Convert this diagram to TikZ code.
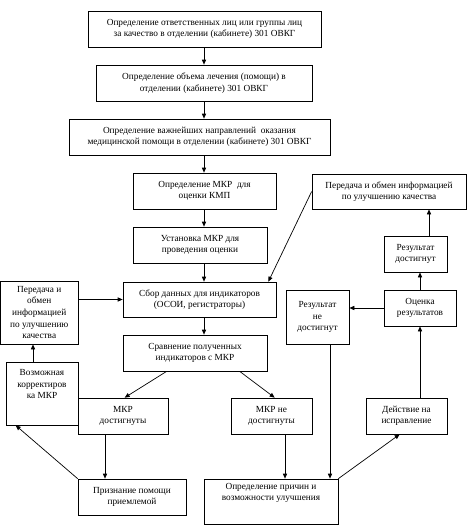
\documentclass[tikz,border=0pt]{standalone}
\usepackage{fontspec}
\setmainfont{Liberation Serif}
\usetikzlibrary{arrows.meta,calc}
\newcommand{\bx}[6]{%
  \node[boxst, minimum width={(#4)-(#2)}, minimum height={(#5)-(#3)}] (#1)
    at ({((#2)+(#4))/2},{((#3)+(#5))/2}) {#6};}
\tikzset{
  boxst/.style={draw, line width=0.7pt, inner sep=0pt, align=center,
    font=\fontsize{9.3}{11.6}\selectfont},
  arr/.style={line width=0.7pt, -{Triangle[length=5pt,width=4.2pt]}}
}
\begin{document}
\begin{tikzpicture}[x=1pt,y=-1pt]
\useasboundingbox (0,0) rectangle (468,528);
\bx{b1}{88}{11}{321}{47}{Определение ответственных лиц или группы лиц\\за качество в отделении (кабинете) 301 ОВКГ}
\bx{b2}{96}{65}{312}{101}{Определение объема лечения (помощи) в\\отделении (кабинете) 301 ОВКГ}
\bx{b3}{69}{119}{330}{155}{Определение важнейших направлений\ \ оказания\\медицинской помощи в отделении (кабинете) 301 ОВКГ}
\bx{b4}{133}{173}{276}{209}{Определение МКР\ \ для\\оценки КМП}
\bx{b5}{133}{227}{267}{263}{Установка МКР для\\проведения оценки}
\bx{sb}{123}{282}{276}{317}{Сбор данных для индикаторов\\(ОСОИ, регистраторы)}
\bx{sr}{123}{335}{267}{371}{Сравнение полученных\\индикаторов с МКР}
\bx{tr}{312}{174}{466}{209}{Передача и обмен информацией\\по улучшению качества}
\bx{rd}{384}{236}{447}{272}{Результат\\достигнут}
\bx{oc}{384}{290}{456}{326}{Оценка\\результатов}
\bx{rn}{286}{290}{349}{344}{Результат\\не\\достигнут}
\bx{lp}{0.5}{281}{78}{344}{Передача и\\обмен\\информацией\\по улучшению\\качества}
\bx{vk}{6}{362}{78}{425}{Возможная\\корректиров\\ка МКР\\[0.8em]}
\bx{md}{78}{398}{168}{434}{МКР\\достигнуты}
\bx{mn}{231}{398}{312}{434}{МКР не\\достигнуты}
\bx{de}{366}{398}{447}{434}{Действие на\\исправление}
\bx{pr}{78}{479}{186}{515}{Признание помощи\\приемлемой}
\bx{op}{204}{479}{338}{524}{Определение причин и\\возможности улучшения\\[0.8em]}
\coordinate (xc) at (204,0);
\coordinate (xrd) at (429,0);
\coordinate (xmn) at (285,0);
\coordinate (xrn) at (330,0);
\coordinate (xmd) at (105,0);
\coordinate (xvk) at (33,0);
\draw[arr] (b1.south -| xc) -- (b2.north -| xc);
\draw[arr] (b2.south -| xc) -- (b3.north -| xc);
\draw[arr] (b3.south -| xc) -- (b4.north -| xc);
\draw[arr] (b4.south -| xc) -- (b5.north -| xc);
\draw[arr] (b5.south -| xc) -- (sb.north -| xc);
\draw[arr] (sb.south -| xc) -- (sr.north -| xc);
\draw[arr] (tr.west) -- ($(sb.north east)+(-8,0)$);
\draw[arr] (rd.north -| xrd) -- (tr.south -| xrd);
\draw[arr] (oc.north) -- (rd.south -| oc.north);
\draw[arr] (oc.west) -- (oc.west -| rn.east);
\draw[arr] (de.north -| oc.south) -- (oc.south);
\draw[arr] (rn.south -| xrn) -- (op.north -| xrn);
\draw[arr] (mn.south -| xmn) -- (op.north -| xmn);
\draw[arr] (op.north east) -- ($(de.south west)+(34,0)$);
\draw[arr] ($(sr.south west)+(44,0)$) -- ($(md.north west)+(47,0)$);
\draw[arr] ($(sr.south west)+(117,0)$) -- ($(mn.north west)+(44,0)$);
\draw[arr] (md.south -| xmd) -- (pr.north -| xmd);
\draw[arr] (pr.north west) -- ($(vk.south west)+(10,0)$);
\draw[arr] (vk.north -| xvk) -- (lp.south -| xvk);
\draw[arr] (lp.east |- sb.west) -- (sb.west);
\end{tikzpicture}
\end{document}
